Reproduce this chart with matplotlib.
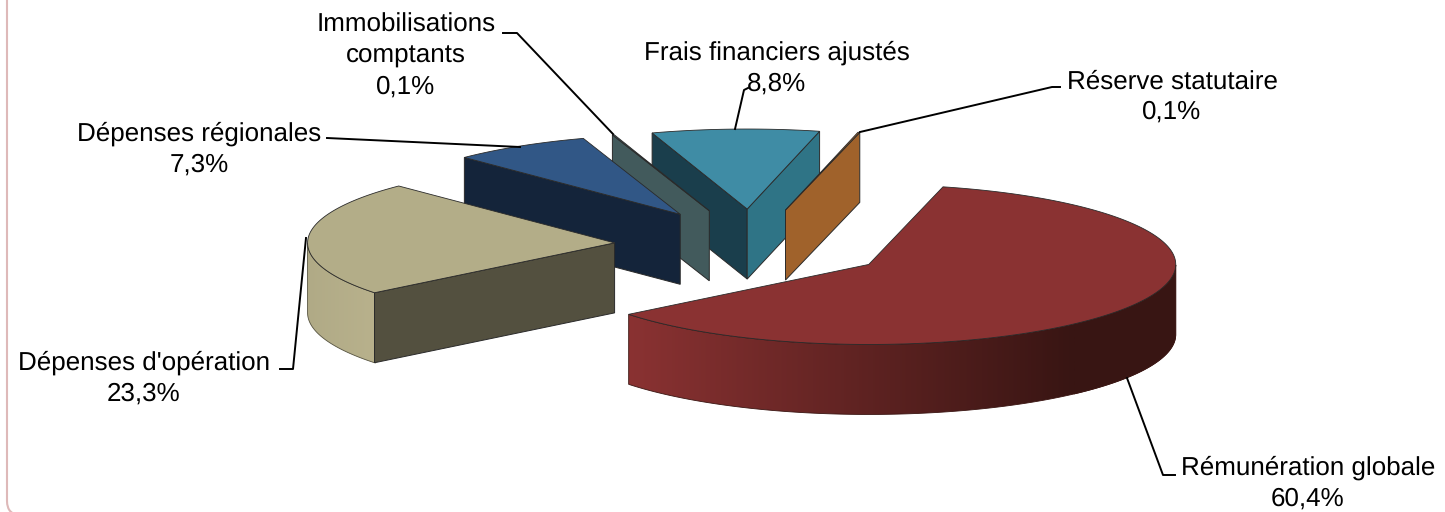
import numpy as np
import matplotlib
matplotlib.use("Agg")
import matplotlib.pyplot as plt
from matplotlib.colors import to_rgb
from matplotlib.patches import FancyBboxPatch, Polygon

# ---- data ----
categories = ["Rémunération globale", "Dépenses d'opération", "Dépenses régionales",
              "Immobilisations\ncomptants", "Frais financiers ajustés", "Réserve statutaire"]
values = [60.4, 23.3, 7.3, 0.1, 8.8, 0.1]

# ---- style ----
top_colors = ["#8a3232", "#b3ad88", "#315786", "#425a5c", "#3f8ca5", "#a0622b"]
start_face = ["#8a3232", "#53503f", "#14243a", "#425a5c", "#1a3e4c", "#a0622b"]
end_face = ["#8a3232", "#b3ad88", "#14243a", "#425a5c", "#2f7486", "#a0622b"]
wall_left = ["#8a3232", "#b0aa86", "#14243a", "#425a5c", "#2f7486", "#a0622b"]
wall_right = ["#381513", "#b8b18c", "#14243a", "#425a5c", "#2f7486", "#a0622b"]
wall_span = [(628, 1075), (305, 374), (0, 1), (0, 1), (0, 1), (0, 1)]
wall_edge = ["#3a1512", "#55523f", "#14243a", "#425a5c", "#2f7486", "#a0622b"]
label_pos = [(1308, 483), (144, 378), (199, 149), (406, 56), (777, 68), (1172, 97)]
leaders = [
    [(1127, 378), (1163, 475), (1175, 475)],
    [(280, 369), (293, 369), (306, 238)],
    [(327, 138), (520, 147)],
    [(503, 33), (517, 33), (613, 134)],
    [(735, 129), (744, 90), (748, 88)],
    [(860, 132), (1052, 87), (1060, 87)],
]
CX, CY, RX, RY, DEPTH, EXPLODE, START = 752.5, 245, 307, 80, 70, 0.45, 76.0
EDGE = "#2a2a2a"

plt.rcParams["text.hinting"] = "no_hinting"
plt.rcParams["text.hinting_factor"] = 1

fig = plt.figure(figsize=(14.45, 5.12), dpi=100)
ax = fig.add_axes([0, 0, 1, 1])
ax.axis("off")

ax.add_patch(FancyBboxPatch((7, -60), 1600, 575, boxstyle="round,pad=0,rounding_size=14",
                            fc="white", ec="#deb9b9", lw=1.5, zorder=0))

angles = np.array(values) / sum(values) * 360.0
ends = START - np.cumsum(angles)
starts = ends + angles
mids = (starts + ends) / 2
apex_x = CX + EXPLODE * RX * np.cos(np.radians(mids))
apex_y = CY - EXPLODE * RY * np.sin(np.radians(mids))


def rim(i, t):
    r = np.radians(t)
    return apex_x[i] + RX * np.cos(r), apex_y[i] - RY * np.sin(r)


z = 1.0
for i in np.argsort(apex_y):
    ts = np.linspace(starts[i], ends[i], max(3, int(angles[i] * 2)))
    xs, ys = rim(i, ts)

    # outer wall: a horizontal shade clipped to the visible part of the rim
    fine = ts[np.sin(np.radians(ts)) <= 0]
    if len(fine) > 1:
        fx, fy = rim(i, fine)
        path = np.c_[np.r_[fx, fx[::-1]], np.r_[fy, fy[::-1] + DEPTH]]
        clip = Polygon(path, closed=True, fc="none", ec=wall_edge[i], lw=0.6, zorder=z + 0.01)
        ax.add_patch(clip)
        shade = np.linspace(0, 1, 256)[None, :, None]
        left, right = np.array(to_rgb(wall_left[i])), np.array(to_rgb(wall_right[i]))
        rgb = left + (right - left) * shade
        lo, hi = wall_span[i]
        im = ax.imshow(rgb, extent=(lo, hi, 512, 0), aspect="auto", zorder=z, interpolation="bilinear")
        im.set_clip_path(clip)
        # beyond the end of the shade the wall keeps its last colour
        if fx.max() > hi:
            keep = fine[fx >= hi - 1]
            kx, ky = rim(i, keep)
            ax.fill(np.r_[kx, kx[::-1]], np.r_[ky, ky[::-1] + DEPTH],
                    fc=wall_right[i], ec=wall_right[i], lw=0.6, zorder=z)

    # cut faces
    sx, sy = rim(i, starts[i])
    ex, ey = rim(i, ends[i])
    if np.cos(np.radians(starts[i])) < 0:
        ax.fill([apex_x[i], sx, sx, apex_x[i]],
                [apex_y[i], sy, sy + DEPTH, apex_y[i] + DEPTH],
                fc=start_face[i], ec=EDGE, lw=0.7, zorder=z + 0.02)
    if np.cos(np.radians(ends[i])) > 0:
        ax.fill([apex_x[i], ex, ex, apex_x[i]],
                [apex_y[i], ey, ey + DEPTH, apex_y[i] + DEPTH],
                fc=end_face[i], ec=EDGE, lw=0.7, zorder=z + 0.02)

    # top face
    ax.fill(np.r_[apex_x[i], xs], np.r_[apex_y[i], ys],
            fc=top_colors[i], ec=EDGE, lw=0.6, zorder=z + 0.1)
    z += 1

for pts in leaders:
    px, py = zip(*pts)
    ax.plot(px, py, color="black", lw=1.4, zorder=20, solid_joinstyle="round")

for name, v, (lx, ly) in zip(categories, values, label_pos):
    ax.text(lx, ly, f"{name}\n{v:.1f}%".replace(".", ","), ha="center", va="center",
            family="Liberation Sans", fontsize=19.0, color="black",
            linespacing=1.34, zorder=21)

ax.set_xlim(0, 1445)
ax.set_ylim(512, 0)
fig.savefig("out.png", dpi=100)
